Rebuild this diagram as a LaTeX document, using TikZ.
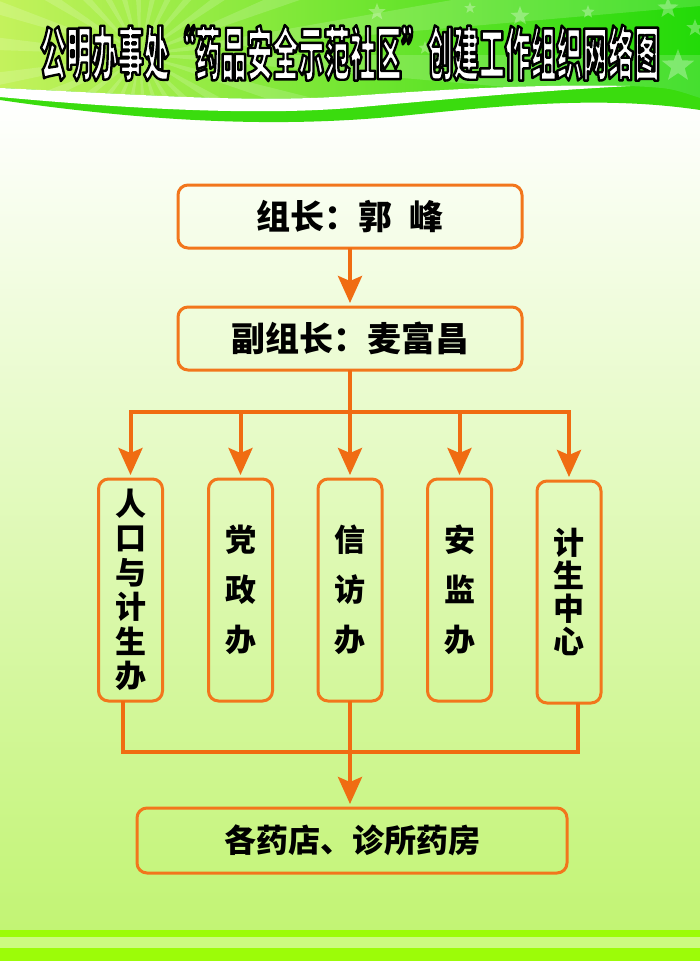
\documentclass[tikz,border=0pt]{standalone}
\usepackage{fontspec}
\usepackage{graphicx}
\newfontfamily\cjk{Noto Sans CJK SC}
\newfontfamily\tfont[FakeStretch=0.445]{Noto Sans CJK SC}
\usetikzlibrary{arrows.meta,shapes.geometric}
\definecolor{org}{RGB}{240,108,18}
\definecolor{bord}{RGB}{242,118,28}
\definecolor{gl}{RGB}{196,242,92}
\definecolor{gm}{RGB}{104,222,36}
\definecolor{gr}{RGB}{34,218,8}
\definecolor{gband}{RGB}{58,220,14}
\definecolor{bgm}{RGB}{226,249,184}
\definecolor{bgb}{RGB}{194,244,116}
\definecolor{strp}{RGB}{156,252,8}
\definecolor{strl}{RGB}{204,250,128}
\newcommand\titletext{公明办事处“药品安全示范社区”创建工作组织网络图}
\begin{document}
\begin{tikzpicture}[x=1pt,y=-1pt,
  box/.style={draw=bord,line width=3pt,rounded corners=10pt,inner sep=0pt,outer sep=0pt,
    font=\cjk\bfseries\fontsize{34}{40}\selectfont},
  vbox/.style={box,minimum width=64pt,minimum height=222pt,align=center,
    font=\cjk\bfseries\fontsize{31}{50}\selectfont},
  conn/.style={draw=org,line width=4pt},
  arr/.style={conn,-{Stealth[width=24pt,length=27pt,inset=5pt]},shorten >=4pt},
  starn/.style={star,star points=5,star point ratio=2.4,fill=white,opacity=0.3,inner sep=0pt,minimum size=#1}
]
\useasboundingbox (0,0) rectangle (700,961);
% background
\shade[top color=white,middle color=bgm,bottom color=bgb] (0,100) rectangle (700,930);
\fill[strp] (0,930) rectangle (700,937);
\fill[strl] (0,937) rectangle (700,948);
\fill[strp] (0,948) rectangle (700,961);
% banner: lower green band
\fill[gband] (0,0) -- (700,0) -- (700,110) .. controls (600,95) and (500,106) .. (400,116)
  .. controls (280,128) and (150,122) .. (0,100) -- cycle;
% banner top region
\shade[left color=gl,middle color=gm,right color=gr] (0,0) -- (700,0) -- (700,98)
  .. controls (670,88) .. (630,86) .. controls (540,84) and (450,89) .. (350,96)
  .. controls (250,103) and (150,95) .. (0,88) -- cycle;
\begin{scope}
  \clip (0,0) -- (700,0) -- (700,98)
  .. controls (670,88) .. (630,86) .. controls (540,84) and (450,89) .. (350,96)
  .. controls (250,103) and (150,95) .. (0,88) -- cycle;
  \foreach \a in {0,14,...,350}
    \fill[white,opacity=0.16] (140,55) -- +(\a:600) -- +(\a+5:600) -- cycle;
\end{scope}
% white swoosh
\fill[white] (0,88) .. controls (150,95) and (250,103) .. (350,96)
  .. controls (450,89) and (540,84) .. (630,86)
  .. controls (520,92) and (440,100) .. (350,108)
  .. controls (250,116) and (120,108) .. (0,97) -- cycle;
% stars
\node[starn=18pt] (s1) at (377,12) {};
\node[starn=13pt] (s2) at (398,32) {};
\node[starn=12pt] (s3) at (470,8) {};
\node[starn=20pt] (s4) at (520,16) {};
\node[starn=14pt] (s5) at (588,12) {};
\node[starn=22pt] (s6) at (668,8) {};
\node[starn=18pt] (s7) at (695,28) {};
\node[starn=34pt] (s8) at (678,66) {};
\node[starn=14pt] (s9) at (425,48) {};
% title: white letters with black stroke
\node[inner sep=0pt,text=white,font=\tfont\bfseries\fontsize{58}{60}\selectfont] (title) at (350,53)
  {\special{pdf:code 0 0 0 RG 2 Tr 2.4 w 1 j}\titletext\special{pdf:code 0 Tr}};
% boxes
\node[box,minimum width=344pt,minimum height=63pt] (lead) at (350,216.5) {组长：郭\hspace{0.5em}峰};
\node[box,minimum width=344pt,minimum height=63pt] (dep) at (350,338.5) {副组长：麦富昌};
\node[vbox,font=\cjk\bfseries\fontsize{31}{34.5}\selectfont] (b1) at (130.5,590) {人\\口\\与\\计\\生\\办};
\node[vbox] (b2) at (240.5,590) {党\\政\\办};
\node[vbox] (b3) at (350,590) {信\\访\\办};
\node[vbox] (b4) at (459.5,590) {安\\监\\办};
\node[vbox,font=\cjk\bfseries\fontsize{31}{33}\selectfont] (b5) at (569,592) {计\\生\\中\\心};
\node[box,minimum width=430pt,minimum height=65pt,font=\cjk\bfseries\fontsize{32}{40}\selectfont] (shops) at (352,840.5) {各药店、诊所药房};
% connectors
\coordinate (hub) at (350,412);
\coordinate (jl) at (123,752);
\coordinate (jr) at (578,752);
\draw[arr] (lead.south) -- (dep.north);
\draw[conn] (dep.south) -- (hub);
\draw[conn,line cap=rect] (b1.north |- hub) -- (b5.north |- hub);
\foreach \n in {b1,b2,b3,b4,b5}
  \draw[arr] (\n.north |- hub) -- (\n.north);
\draw[conn] (b1.south -| jl) -- (jl) -- (jr) -- (b5.south -| jr);
\draw[arr] (b3.south) -- (b3.south |- shops.north);
\end{tikzpicture}
\end{document}
